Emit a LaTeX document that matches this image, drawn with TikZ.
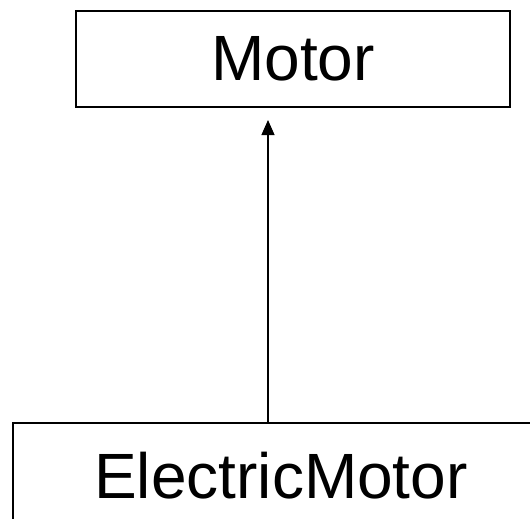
\documentclass[tikz,border=0pt]{standalone}
\usepackage{fontspec}
\setmainfont{Liberation Sans}
\usetikzlibrary{arrows.meta}
\begin{document}
\begin{tikzpicture}[x=1pt, y=-1pt, font=\fontsize{64}{76}\selectfont,
    classbox/.style={draw, line width=1.6pt, inner sep=0pt, anchor=center}]
  \useasboundingbox (0,0) rectangle (530,519);
  \node[classbox, minimum width=434pt, minimum height=96pt] (motor) at (293,59) {Motor};
  \node[classbox, minimum width=536pt, minimum height=106pt] (electric) at (281,476) {ElectricMotor};
  \coordinate (tip) at (268,120);
  \draw[line width=1.2pt, -{Triangle[length=15pt, width=13pt]}] (electric.north -| tip) -- (tip);
\end{tikzpicture}
\end{document}
